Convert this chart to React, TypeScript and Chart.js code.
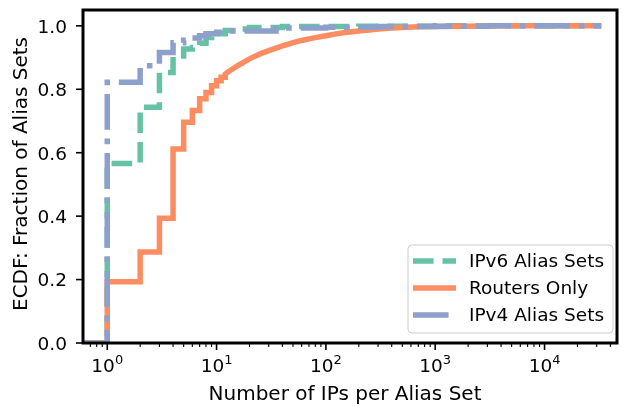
import React, { useEffect, useRef } from 'react';
import { Chart, registerables } from 'chart.js';

Chart.register(...registerables);

// ECDF steps (x = IPs per alias set, y = fraction of sets)
const ipv6X = [0.62, 1, 2, 3, 4, 5, 6, 7, 8, 9, 10, 12, 15, 20, 40, 200, 1000, 33000];
const ipv6Y = [0, 0.566, 0.743, 0.853, 0.905, 0.927, 0.932, 0.945, 0.963, 0.97, 0.975, 0.985, 0.99, 0.995, 0.998, 0.999, 1.0, 1.0];

// routers: explicit step corners up to 12, then the curve is smooth
const routersX = [
  0.62, 1, 1, 2, 2, 3, 3, 4, 4, 5, 5, 6, 6, 7, 7, 8, 8, 9, 9, 10, 10, 11, 11, 12, 12,
  13, 14, 15, 17, 20, 23, 26, 30, 35, 40, 45, 50, 60, 70, 80, 100, 120, 150, 200, 250, 300, 400, 500, 700, 1000, 2000, 5000, 33000,
];
const routersY = [
  0, 0, 0.193, 0.193, 0.287, 0.287, 0.393, 0.393, 0.612, 0.612, 0.696, 0.696, 0.733, 0.733, 0.77, 0.77, 0.79, 0.79, 0.811, 0.811, 0.827, 0.827, 0.838, 0.838, 0.848,
  0.857, 0.864, 0.871, 0.882, 0.896, 0.906, 0.914, 0.922, 0.93, 0.937, 0.942, 0.947, 0.954, 0.959, 0.963, 0.969, 0.974, 0.979, 0.984, 0.987, 0.99, 0.993, 0.995, 0.997, 0.998, 0.999, 1.0, 1.0,
];

const ipv4X = [0.62, 1, 2, 3, 4, 5, 6, 7, 8, 10, 12, 35, 100, 300, 1000, 3000, 33000];
const ipv4Y = [0, 0.822, 0.874, 0.916, 0.947, 0.955, 0.962, 0.969, 0.975, 0.98, 0.984, 0.993, 0.996, 0.998, 0.999, 1.0, 1.0];

const seriesLabels = ['IPv6 Alias Sets', 'Routers Only', 'IPv4 Alias Sets'];
const xTitle = 'Number of IPs per Alias Set';
const yTitle = 'ECDF: Fraction of Alias Sets';

// tick labels
const xMajorTicks = [1, 10, 100, 1000, 10000];
const xMinorTicks = [
  0.7, 0.8, 0.9,
  2, 3, 4, 5, 6, 7, 8, 9,
  20, 30, 40, 50, 60, 70, 80, 90,
  200, 300, 400, 500, 600, 700, 800, 900,
  2000, 3000, 4000, 5000, 6000, 7000, 8000, 9000,
  20000, 30000, 40000,
];
const yTicks = [0, 0.2, 0.4, 0.6, 0.8, 1.0];

const FONT = '"DejaVu Sans", sans-serif';

const toPoints = (xs: number[], ys: number[]) => xs.map((x, i) => ({ x, y: ys[i] }));

// frame, tick marks, tick labels, axis titles and legend, matplotlib style
const decorPlugin = {
  id: 'decor',
  afterDraw(chart: any) {
    const { ctx, chartArea: a, scales } = chart;
    ctx.save();
    ctx.strokeStyle = '#000';
    ctx.fillStyle = '#000';

    const xs = scales.x;
    xs.ticks.forEach((t: any) => {
      const px = xs.getPixelForValue(t.value);
      const major = xMajorTicks.includes(t.value);
      ctx.lineWidth = major ? 1.6 : 1.1;
      ctx.beginPath();
      ctx.moveTo(px, a.bottom);
      ctx.lineTo(px, a.bottom + (major ? 7 : 4));
      ctx.stroke();
    });
    const ys = scales.y;
    ys.ticks.forEach((t: any) => {
      const py = ys.getPixelForValue(t.value);
      ctx.lineWidth = 1.6;
      ctx.beginPath();
      ctx.moveTo(a.left, py);
      ctx.lineTo(a.left - 7, py);
      ctx.stroke();
    });

    ctx.lineWidth = 3;
    ctx.strokeRect(a.left, a.top, a.right - a.left, a.bottom - a.top);

    // y tick labels
    ctx.font = `18.5px ${FONT}`;
    ctx.textBaseline = 'alphabetic';
    ctx.textAlign = 'right';
    ys.ticks.forEach((t: any) => {
      const py = ys.getPixelForValue(t.value);
      ctx.fillText(Number(t.value).toFixed(1), a.left - 16, py + 6.8);
    });

    // x tick labels: 10 with a superscript exponent
    ctx.textAlign = 'left';
    xMajorTicks.forEach(v => {
      const px = xs.getPixelForValue(v);
      const exp = String(Math.round(Math.log10(v)));
      ctx.font = `18.5px ${FONT}`;
      const wBase = ctx.measureText('10').width;
      ctx.font = `13px ${FONT}`;
      const wExp = ctx.measureText(exp).width;
      const x0 = px - (wBase + wExp) / 2;
      ctx.font = `18.5px ${FONT}`;
      ctx.fillText('10', x0, a.bottom + 29);
      ctx.font = `13px ${FONT}`;
      ctx.fillText(exp, x0 + wBase, a.bottom + 21);
    });

    // axis titles
    ctx.font = `20px ${FONT}`;
    ctx.textAlign = 'center';
    ctx.fillText(xTitle, (a.left + a.right) / 2 - 5, a.bottom + 57);
    ctx.save();
    ctx.translate(27, (a.top + a.bottom) / 2 - 2.5);
    ctx.rotate(-Math.PI / 2);
    ctx.fillText(yTitle, 0, 0);
    ctx.restore();

    // legend
    const w = 205, h = 88;
    const lx = a.right - 4 - w;
    const ly = a.bottom - 10 - h;
    ctx.beginPath();
    ctx.roundRect(lx, ly, w, h, 4);
    ctx.fillStyle = 'rgba(255,255,255,0.8)';
    ctx.fill();
    ctx.lineWidth = 1;
    ctx.strokeStyle = '#cccccc';
    ctx.stroke();

    ctx.font = `18.5px ${FONT}`;
    ctx.textAlign = 'left';
    ctx.textBaseline = 'middle';
    chart.data.datasets.forEach((ds: any, i: number) => {
      const ry = ly + 16 + i * 27;
      ctx.setLineDash(ds.borderDash || []);
      ctx.strokeStyle = ds.borderColor;
      ctx.lineWidth = ds.borderWidth;
      ctx.beginPath();
      ctx.moveTo(lx + 5, ry);
      ctx.lineTo(lx + 48, ry);
      ctx.stroke();
      ctx.setLineDash([]);
      ctx.fillStyle = '#000';
      ctx.fillText(ds.label, lx + 61, ry + 1);
    });
    ctx.restore();
  },
};

export default function App() {
  const chartRef = useRef<HTMLCanvasElement>(null);
  const chartInstance = useRef<Chart | null>(null);

  useEffect(() => {
    if (!chartRef.current) return;
    if (chartInstance.current) chartInstance.current.destroy();

    const ctx = chartRef.current.getContext('2d');
    if (!ctx) return;

    chartInstance.current = new Chart(ctx, {
      type: 'line',
      data: {
        datasets: [
          {
            label: seriesLabels[0],
            data: toPoints(ipv6X, ipv6Y),
            borderColor: '#66c2a5',
            borderWidth: 5.5,
            borderDash: [20.6, 8.9],
            stepped: 'before',
            pointRadius: 0,
            fill: false,
            order: 3,
          },
          {
            label: seriesLabels[1],
            data: toPoints(routersX, routersY),
            borderColor: '#fc8d62',
            borderWidth: 5.5,
            pointRadius: 0,
            fill: false,
            order: 2,
          },
          {
            label: seriesLabels[2],
            data: toPoints(ipv4X, ipv4Y),
            borderColor: '#8da0cb',
            borderWidth: 5.5,
            borderDash: [35.6, 8.9, 5.6, 8.9],
            stepped: 'before',
            pointRadius: 0,
            fill: false,
            order: 1,
          },
        ],
      },
      options: {
        animation: false,
        responsive: true,
        maintainAspectRatio: false,
        layout: { padding: { top: 10, right: 5, left: 0, bottom: 0 } },
        plugins: {
          legend: { display: false },
          tooltip: { enabled: false },
        },
        scales: {
          x: {
            type: 'logarithmic',
            min: 0.62,
            max: 46000,
            grid: { display: false },
            border: { display: false },
            afterBuildTicks: (scale: any) => {
              scale.ticks = [...xMajorTicks, ...xMinorTicks].sort((p, q) => p - q).map(v => ({ value: v }));
            },
            afterFit: (scale: any) => {
              scale.height = 64;
            },
            ticks: { display: false, autoSkip: false },
          },
          y: {
            type: 'linear',
            min: 0,
            max: 1.05,
            grid: { display: false },
            border: { display: false },
            afterBuildTicks: (scale: any) => {
              scale.ticks = yTicks.map(v => ({ value: v }));
            },
            afterFit: (scale: any) => {
              scale.width = 83;
            },
            ticks: { display: false },
          },
        },
      },
      plugins: [decorPlugin],
    });

    return () => {
      if (chartInstance.current) {
        chartInstance.current.destroy();
        chartInstance.current = null;
      }
    };
  }, []);

  return (
    <div style={{ position: 'absolute', left: 0, top: 0, width: 622, height: 407, background: '#fff' }}>
      <canvas ref={chartRef}></canvas>
    </div>
  );
}
